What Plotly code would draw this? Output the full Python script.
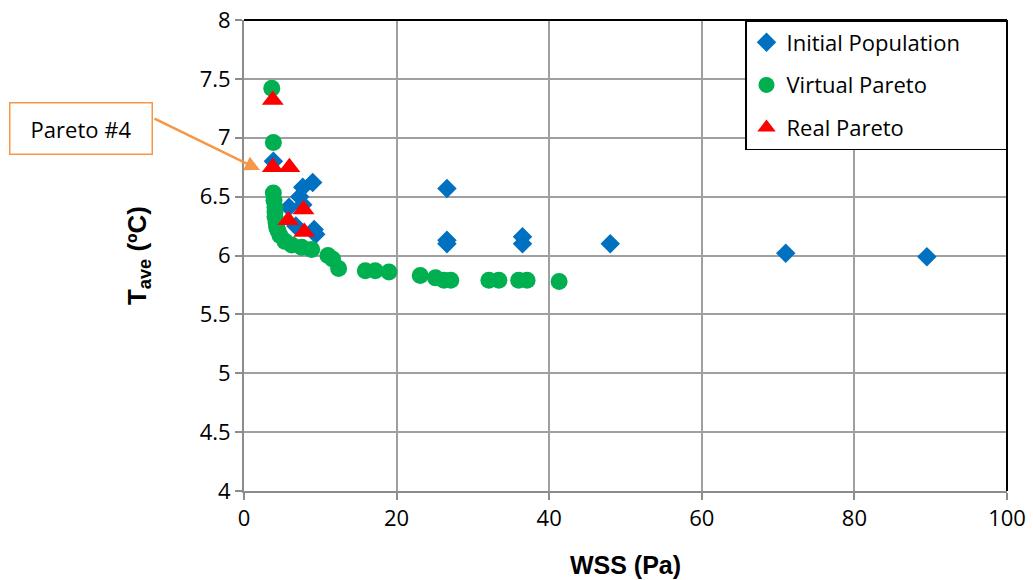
import plotly.graph_objects as go

# Initial Population
init_x = [3.85, 5.9, 7.7, 7.3, 7.7, 9.0, 6.8, 9.2, 9.4, 26.6, 26.6, 26.6, 36.5, 36.5, 48.0, 71.0, 89.5]
init_y = [6.80, 6.41, 6.43, 6.50, 6.58, 6.62, 6.25, 6.22, 6.18, 6.57, 6.13, 6.10, 6.16, 6.10, 6.10, 6.02, 5.99]

# Virtual Pareto
virt_x = [3.64, 3.85, 3.84, 3.93, 4.06, 4.06, 4.06, 4.2, 4.29, 4.46, 4.72, 5.37, 6.25, 7.56, 8.87,
          11.0, 11.6, 12.4, 15.9, 17.2, 19.0, 23.1, 25.1, 26.2, 27.1, 32.1, 33.4, 36.0, 37.1, 41.3]
virt_y = [7.42, 6.96, 6.53, 6.47, 6.41, 6.37, 6.33, 6.28, 6.24, 6.21, 6.17, 6.12, 6.09, 6.07, 6.05,
          6.00, 5.97, 5.89, 5.87, 5.87, 5.86, 5.83, 5.81, 5.79, 5.79, 5.79, 5.79, 5.79, 5.79, 5.78]

# Real Pareto
real_x = [3.77, 3.77, 5.95, 7.8, 5.8, 7.9]
real_y = [7.32, 6.75, 6.75, 6.39, 6.30, 6.20]

x_ticks = [0, 20, 40, 60, 80, 100]
y_ticks = [4, 4.5, 5, 5.5, 6, 6.5, 7, 7.5, 8]

FONT = "Open Sans"
PAD = "\u00a0" * 7

fig = go.Figure()
fig.add_trace(go.Scatter(x=init_x, y=init_y, mode="markers", name="Initial Population" + PAD,
                         legendgroup="a",
                         marker=dict(symbol="diamond", size=15, color="#0070C0")))
fig.add_trace(go.Scatter(x=virt_x, y=virt_y, mode="markers", name="Virtual Pareto",
                         legendgroup="b",
                         marker=dict(symbol="circle", size=17, color="#00B050")))
fig.add_trace(go.Scatter(x=real_x, y=real_y, mode="markers", name="Real Pareto",
                         legendgroup="c",
                         marker=dict(symbol="triangle-up", size=19, color="#FF0000")))

axis_common = dict(
    showgrid=True, gridcolor="#A0A0A0", gridwidth=2,
    showline=True, linecolor="#8C8C8C", linewidth=2,
    ticks="outside", ticklen=7, tickcolor="#8C8C8C", tickwidth=1.5,
    zeroline=False, automargin=False,
    tickfont=dict(family=FONT, size=22, color="black"),
)

fig.update_layout(
    width=1033, height=580,
    margin=dict(l=244, r=26, t=20, b=89),
    plot_bgcolor="white", paper_bgcolor="white",
    xaxis=dict(range=[0, 100], tickvals=x_ticks,
               title=dict(text="WSS (Pa)", standoff=25,
                          font=dict(family="Liberation Sans", size=25, color="black", weight="bold")),
               **axis_common),
    yaxis=dict(range=[4, 8], tickvals=y_ticks, ticktext=[f"{v:g}" for v in y_ticks],
               title=dict(text="T<sub>ave</sub> (ºC)", standoff=46,
                          font=dict(family="Liberation Sans", size=26, color="black", weight="bold")),
               **axis_common),
    legend=dict(x=1, y=1, xanchor="right", yanchor="top",
                bgcolor="white", bordercolor="black", borderwidth=1.5,
                font=dict(family=FONT, size=22, color="black"),
                tracegroupgap=11, traceorder="grouped"),
    showlegend=True,
)

# black top/right frame
fig.add_shape(type="line", xref="paper", yref="paper", x0=0, x1=1, y0=1, y1=1,
              line=dict(color="black", width=2))
fig.add_shape(type="line", xref="paper", yref="paper", x0=1, x1=1, y0=0, y1=1,
              line=dict(color="black", width=2))

# Pareto #4 callout box
fig.add_annotation(xref="paper", yref="paper", x=-0.2136, y=0.7686,
                   xanchor="center", yanchor="middle", text="Pareto #4", showarrow=False,
                   width=139, height=48, bordercolor="#F79646", borderwidth=1.5,
                   bgcolor="white", font=dict(family=FONT, size=22, color="black"))
# arrow
fig.add_annotation(x=2.1, y=6.726, xref="x", yref="y", text="", showarrow=True,
                   ax=-107, ay=-52, arrowhead=2, arrowsize=1.2, arrowwidth=2.5,
                   arrowcolor="#F79646")

fig.write_html("out.html", config={"displayModeBar": False},
               post_script="document.body.style.margin='0px';")
